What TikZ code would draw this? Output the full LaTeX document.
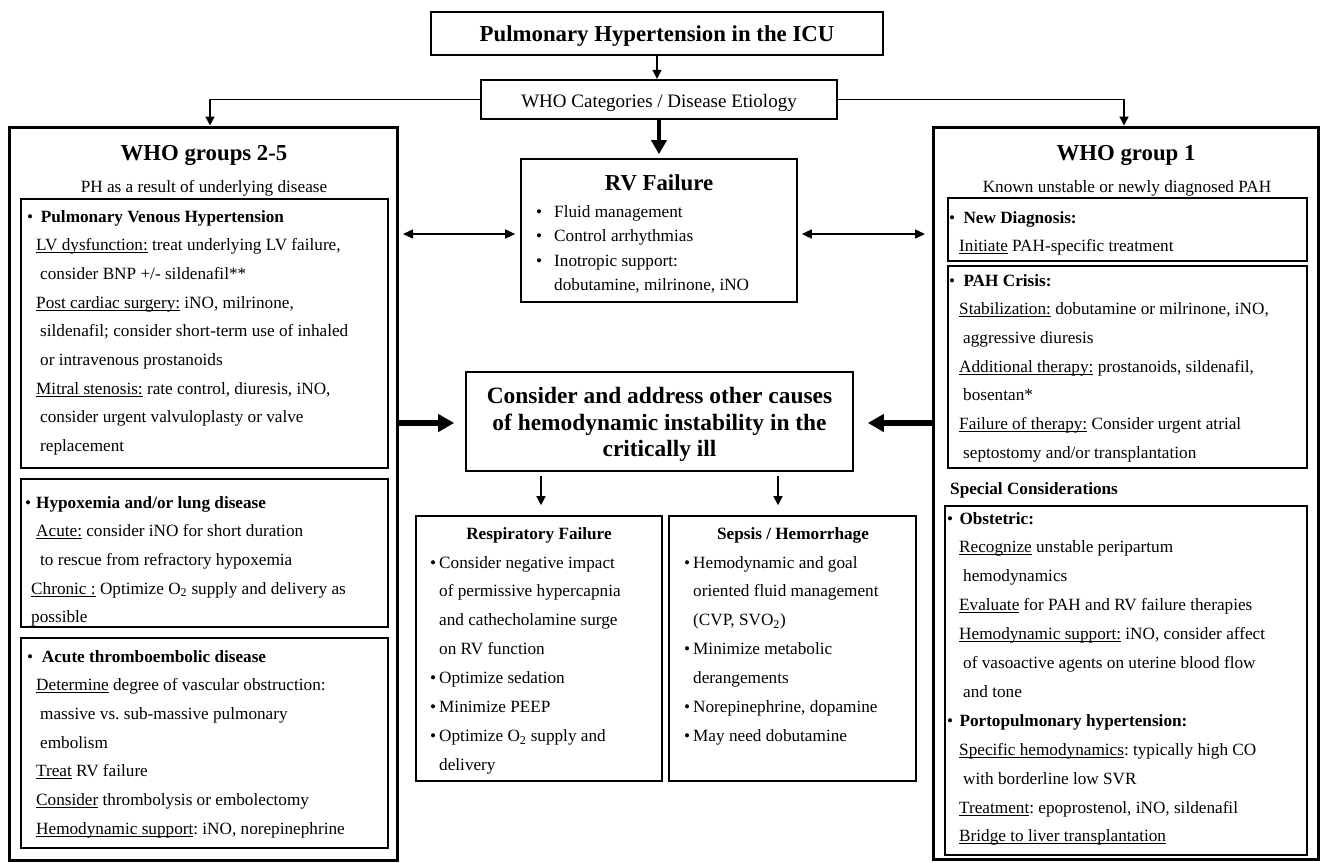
\documentclass[tikz,border=0pt]{standalone}
\usepackage{fontspec}
\setmainfont{Liberation Serif}
\usetikzlibrary{arrows.meta}
\frenchspacing
\newcounter{lnc}
\newcommand\ul[1]{\setbox0\hbox{#1}\rlap{\rule[-2.4pt]{\wd0}{0.9pt}}\box0\relax}
\newcommand\Ln[4][]{\stepcounter{lnc}\node[txtl,#1] (ln\arabic{lnc}) at (#2,#3) {#4};}
\newcommand\Bu[4]{\stepcounter{lnc}\node[txtl] (ln\arabic{lnc}) at (#1,#3) {\makebox[\dimexpr#2pt-#1pt\relax][l]{\textbullet}#4};}
\newcommand\Tl[3]{\stepcounter{lnc}\node[ttl] (ln\arabic{lnc}) at (#1,#2) {#3};}
\newcommand\Cl[3]{\stepcounter{lnc}\node[cln] (ln\arabic{lnc}) at (#1,#2) {#3};}
\begin{document}
\begin{tikzpicture}[x=1pt,y=-1pt,
  txtl/.style={anchor=base west, inner sep=0, font=\fontsize{17.2}{20}\selectfont},
  ttl/.style={anchor=base, inner sep=0, font=\bfseries\fontsize{22.8}{26}\selectfont},
  cln/.style={anchor=base, inner sep=0, font=\bfseries\fontsize{23.4}{26}\selectfont},
  obox/.style={draw, line width=3pt, inner sep=0},
  ibox/.style={draw, line width=2pt, inner sep=0},
  mbox/.style={draw, line width=1.6pt, inner sep=0},
  arr/.style={line width=1.4pt, -{Triangle[length=9pt,width=9pt]}},
  darr/.style={line width=1.4pt, {Triangle[length=10pt,width=9pt]}-{Triangle[length=10pt,width=9pt]}},
  bigarr/.style={line width=4.5pt, -{Triangle[length=14pt,width=15pt]}},
  sidearr/.style={line width=6pt, -{Triangle[length=16pt,width=17pt]}}
]
\fill[white] (0,0) rectangle (1322,862);
\useasboundingbox (0,0) rectangle (1322,862);

% top boxes
\node[draw, line width=1.5pt, inner sep=0, minimum width=452pt, text height=29.7pt, text depth=13.3pt,
  font=\bfseries\fontsize{22.8}{26}\selectfont] (title) at (657,33.5) {Pulmonary Hypertension in the ICU};
\node[draw, line width=1.2pt, inner sep=0, minimum width=356pt, text height=27.3pt, text depth=11.7pt,
  font=\fontsize{19}{22}\selectfont] (whocat) at (659,99.5) {WHO Categories / Disease Etiology};

% outer boxes
\node[obox, minimum width=388pt, minimum height=733pt] (left) at (203,493.5) {};
\node[obox, minimum width=385pt, minimum height=732pt] (right) at (1125.5,493) {};

% inner boxes
\node[ibox, minimum width=367pt, minimum height=269pt] (lb1) at (204.5,333.5) {};
\node[ibox, minimum width=367pt, minimum height=148pt] (lb2) at (204.5,553) {};
\node[ibox, minimum width=367pt, minimum height=210pt] (lb3) at (204.5,743) {};
\node[ibox, minimum width=359pt, minimum height=63pt] (rb1) at (1127.5,229.5) {};
\node[ibox, minimum width=359pt, minimum height=202pt] (rb2) at (1127.5,367) {};
\node[ibox, minimum width=362pt, minimum height=349pt] (rb3) at (1126,680.5) {};

% centre boxes
\node[mbox, minimum width=276pt, minimum height=143pt] (rv) at (659,230.5) {};
\node[mbox, minimum width=387pt, minimum height=99pt] (cons) at (659.5,421.5) {};
\node[mbox, minimum width=246pt, minimum height=265pt] (resp) at (539,648.5) {};
\node[mbox, minimum width=247pt, minimum height=265pt] (seps) at (792.5,648.5) {};

% connectors
\draw[arr, shorten >=0.5pt] (title.south) -- (title.south |- whocat.north);
\draw[arr] (whocat.west) -| ([xshift=7pt]left.north);
\draw[arr] (whocat.east) -| ([xshift=-1.5pt]right.north);
\draw[bigarr, shorten >=4pt] (whocat.south) -- (rv.north);
\coordinate (rvl) at ([yshift=-3.5pt]rv.west);
\coordinate (rvr) at ([yshift=-3.5pt]rv.east);
\draw[darr, shorten <=4.5pt, shorten >=5pt] (left.east |- rvl) -- (rvl);
\draw[darr, shorten <=4pt, shorten >=6.5pt] (rvr) -- (right.west |- rvr);
\coordinate (cl) at ([yshift=-1.5pt]cons.west);
\coordinate (cr) at ([yshift=-1.5pt]cons.east);
\draw[sidearr, shorten >=11pt] (left.east |- cl) -- (cl);
\draw[sidearr, shorten >=14pt] (right.west |- cr) -- (cr);
\coordinate (d1) at (541,0);
\coordinate (d2) at (778,0);
\draw[arr, shorten <=4pt, shorten >=10pt] (cons.south -| d1) -- (resp.north -| d1);
\draw[arr, shorten <=4pt, shorten >=10pt] (cons.south -| d2) -- (seps.north -| d2);

% left column
\Tl{204}{160}{WHO groups 2-5}
\Ln[anchor=base]{204}{192.7}{PH as a result of underlying disease}
\Bu{27}{40.7}{222}{\textbf{Pulmonary Venous Hypertension}}
\Ln{36}{250.7}{\ul{LV dysfunction:} treat underlying LV failure,}
\Ln{40}{279.4}{consider BNP +/- sildenafil**}
\Ln{36}{308.1}{\ul{Post cardiac surgery:} iNO, milrinone,}
\Ln{40}{336.8}{sildenafil; consider short-term use of inhaled}
\Ln{40}{365.5}{or intravenous prostanoids}
\Ln{36}{394.2}{\ul{Mitral stenosis:} rate control, diuresis, iNO,}
\Ln{40}{422.9}{consider urgent valvuloplasty or valve}
\Ln{40}{451.6}{replacement}

\Bu{25}{36}{508}{\textbf{Hypoxemia and/or lung disease}}
\Ln{36}{536.7}{\ul{Acute:} consider iNO for short duration}
\Ln{40}{565.4}{to rescue from refractory hypoxemia}
\Ln{31}{594.1}{\ul{Chronic :} Optimize O\textsubscript{2} supply and delivery as}
\Ln{31}{622.8}{possible}

\Bu{27}{41.7}{662}{\textbf{Acute thromboembolic disease}}
\Ln{36}{690.7}{\ul{Determine} degree of vascular obstruction:}
\Ln{40}{719.4}{massive vs. sub-massive pulmonary}
\Ln{40}{748.1}{embolism}
\Ln{36}{776.8}{\ul{Treat} RV failure}
\Ln{36}{805.5}{\ul{Consider} thrombolysis or embolectomy}
\Ln{36}{834.2}{\ul{Hemodynamic support}: iNO, norepinephrine}

% right column
\Tl{1126}{160}{WHO group 1}
\Ln[anchor=base]{1127}{192.7}{Known unstable or newly diagnosed PAH}
\Bu{949}{963.3}{223}{\textbf{New Diagnosis:}}
\Ln{959}{251}{\ul{Initiate} PAH-specific treatment}

\Bu{949}{963.3}{286}{\textbf{PAH Crisis:}}
\Ln{959}{314.7}{\ul{Stabilization:} dobutamine or milrinone, iNO,}
\Ln{963}{343.4}{aggressive diuresis}
\Ln{959}{372.1}{\ul{Additional therapy:} prostanoids, sildenafil,}
\Ln{963}{400.8}{bosentan*}
\Ln{959}{429.5}{\ul{Failure of therapy:} Consider urgent atrial}
\Ln{963}{458.2}{septostomy and/or transplantation}

\Ln{950}{494}{\textbf{Special Considerations}}
\Bu{947}{959.3}{524}{\textbf{Obstetric:}}
\Ln{959}{552.9}{\ul{Recognize} unstable peripartum}
\Ln{963}{581.8}{hemodynamics}
\Ln{959}{610.7}{\ul{Evaluate} for PAH and RV failure therapies}
\Ln{959}{639.6}{\ul{Hemodynamic support:} iNO, consider affect}
\Ln{963}{668.5}{of vasoactive agents on uterine blood flow}
\Ln{963}{697.4}{and tone}
\Bu{947}{959.3}{726.3}{\textbf{Portopulmonary hypertension:}}
\Ln{959}{755.2}{\ul{Specific hemodynamics}: typically high CO}
\Ln{963}{784.1}{with borderline low SVR}
\Ln{959}{813}{\ul{Treatment}: epoprostenol, iNO, sildenafil}
\Ln{959}{841.9}{\ul{Bridge to liver transplantation}}

% RV failure
\Tl{659}{190}{RV Failure}
\Bu{536}{554}{217.3}{Fluid management}
\Bu{536}{554}{241.8}{Control arrhythmias}
\Bu{536}{554}{266.3}{Inotropic support:}
\Ln{554}{290.8}{dobutamine, milrinone, iNO}

% consider
\Cl{659.5}{403.3}{Consider and address other causes}
\Cl{659.5}{430}{of hemodynamic instability in the}
\Cl{659.5}{456.7}{critically ill}

% respiratory
\Ln[anchor=base]{539}{539}{\textbf{Respiratory Failure}}
\Bu{430}{439}{568}{Consider negative impact}
\Ln{439}{596.9}{of permissive hypercapnia}
\Ln{439}{625.8}{and cathecholamine surge}
\Ln{439}{654.7}{on RV function}
\Bu{430}{439}{683.6}{Optimize sedation}
\Bu{430}{439}{712.5}{Minimize PEEP}
\Bu{430}{439}{741.4}{Optimize O\textsubscript{2} supply and}
\Ln{439}{770.3}{delivery}

% sepsis
\Ln[anchor=base]{793}{539}{\textbf{Sepsis / Hemorrhage}}
\Bu{684}{693}{568}{Hemodynamic and goal}
\Ln{693}{596.9}{oriented fluid management}
\Ln{693}{625.8}{(CVP, SVO\textsubscript{2})}
\Bu{684}{693}{654.7}{Minimize metabolic}
\Ln{693}{683.6}{derangements}
\Bu{684}{693}{712.5}{Norepinephrine, dopamine}
\Bu{684}{693}{741.4}{May need dobutamine}
\end{tikzpicture}
\end{document}
